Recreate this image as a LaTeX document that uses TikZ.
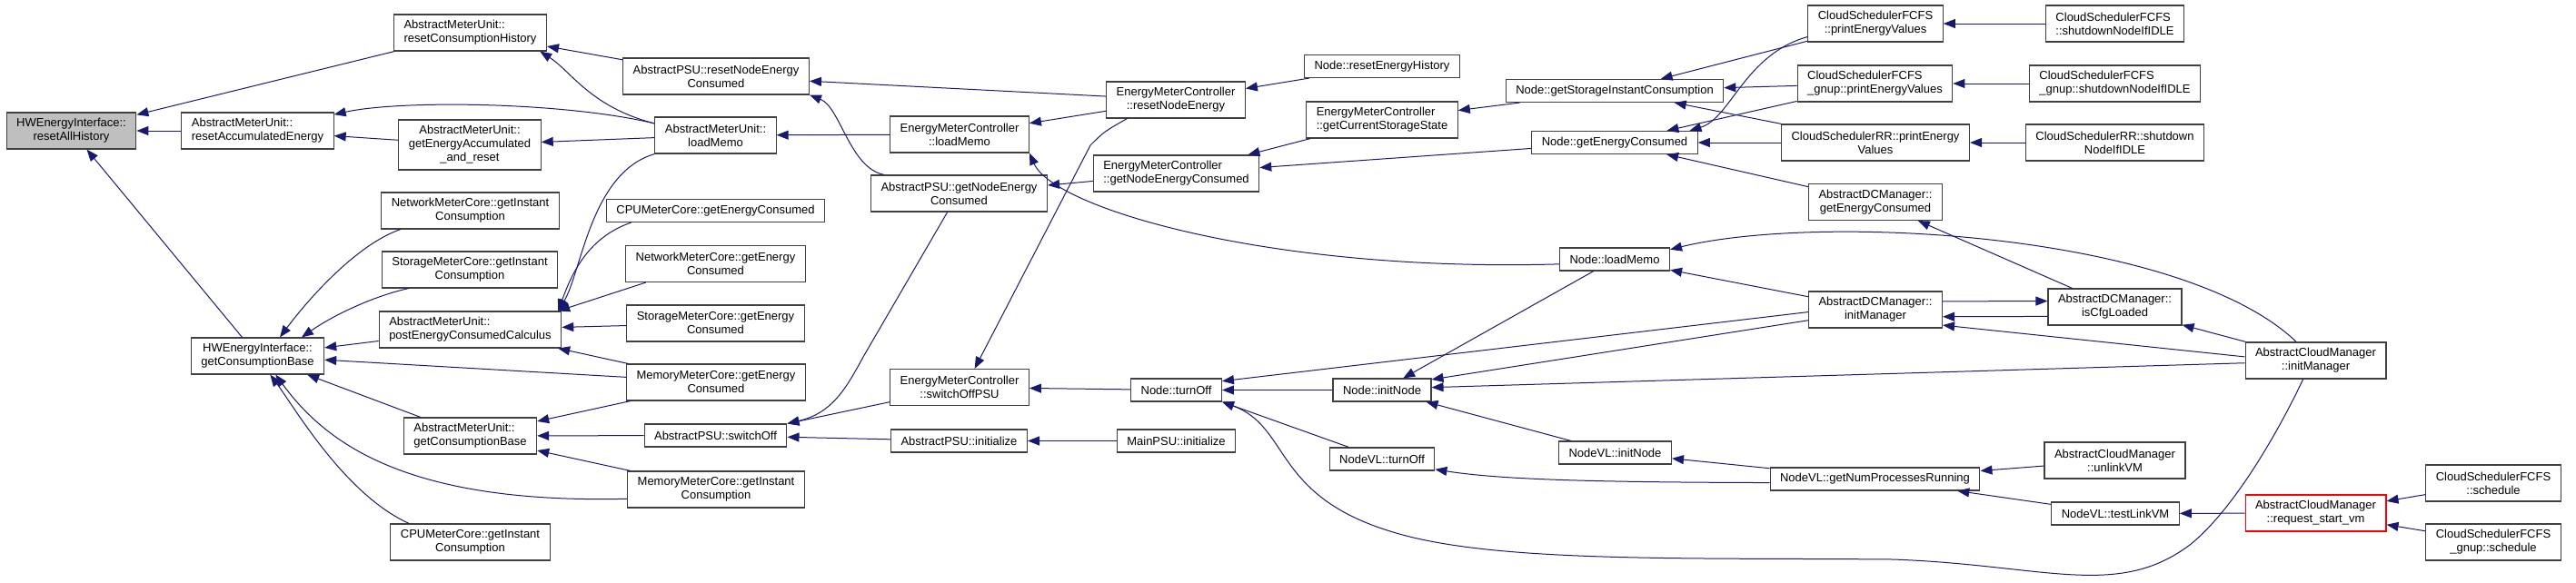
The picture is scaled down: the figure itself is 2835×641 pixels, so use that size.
\documentclass[tikz,border=0pt]{standalone}
\usepackage{fontspec}
\setmainfont{Liberation Sans}
\usetikzlibrary{arrows.meta}
\definecolor{edgeblue}{HTML}{191970}
\definecolor{boxgray}{HTML}{BFBFBF}
\definecolor{boxline}{HTML}{404040}

\begin{document}
\begin{tikzpicture}[x=1pt,y=-1pt,
  fn/.style={draw=boxline, line width=1.1pt, fill=white, align=center, inner xsep=11pt, inner ysep=0pt, minimum height=25pt, font=\fontsize{13}{15}\selectfont},
  fnl/.style={fn, align=left},
  tall/.style={minimum height=40pt},
  taller/.style={minimum height=55pt},
  call/.style={draw=edgeblue, line width=1pt, {Triangle[length=13pt,width=10pt]}-}]
\useasboundingbox (0,0) rectangle (2835,641);
% column 1
\node[fn, tall, fill=boxgray] (hwReset) at (78.5,144) {HWEnergyInterface::\\resetAllHistory};
\node[fnl, tall] (amuResetAcc) at (283.5,144) {AbstractMeterUnit::\\resetAccumulatedEnergy};
\node[fn, tall] (hwGetBase) at (283.5,392) {HWEnergyInterface::\\getConsumptionBase};
% column 2
\node[fnl, tall] (amuResetHist) at (517.5,36) {AbstractMeterUnit::\\resetConsumptionHistory};
\node[fn, taller] (amuGetAccReset) at (517,159.5) {AbstractMeterUnit::\\getEnergyAccumulated\\\_and\_reset};
\node[fn, tall] (netInst) at (517.5,232) {NetworkMeterCore::getInstant\\Consumption};
\node[fn, tall] (stoInst) at (517,297) {StorageMeterCore::getInstant\\Consumption};
\node[fnl, tall] (amuPost) at (517.5,363) {AbstractMeterUnit::\\postEnergyConsumedCalculus};
\node[fnl, tall] (amuGetBase) at (517.5,480) {AbstractMeterUnit::\\getConsumptionBase};
\node[fn, tall] (cpuInst) at (517.5,597) {CPUMeterCore::getInstant\\Consumption};
% column 3
\node[fn, tall] (psuResetCons) at (788,84) {AbstractPSU::resetNodeEnergy\\Consumed};
\node[fn, tall] (amuLoad) at (787.5,149) {AbstractMeterUnit::\\loadMemo};
\node[fn] (cpuEnergy) at (787.5,232) {CPUMeterCore::getEnergyConsumed};
\node[fn, tall] (netEnergy) at (787.5,290.5) {NetworkMeterCore::getEnergy\\Consumed};
\node[fn, tall] (stoEnergy) at (787.5,356) {StorageMeterCore::getEnergy\\Consumed};
\node[fn, tall] (memEnergy) at (788,421) {MemoryMeterCore::getEnergy\\Consumed};
\node[fn] (psuOff) at (787.5,479.5) {AbstractPSU::switchOff};
\node[fn, tall] (memInst) at (788,539) {MemoryMeterCore::getInstant\\Consumption};
% column 4
\node[fn, tall] (emcLoad) at (1056,148) {EnergyMeterController\\::loadMemo};
\node[fn, tall] (psuGetCons) at (1055.5,213) {AbstractPSU::getNodeEnergy\\Consumed};
\node[fn, tall] (emcOffPSU) at (1056,426.5) {EnergyMeterController\\::switchOffPSU};
\node[fn] (psuInit) at (1055.5,485.5) {AbstractPSU::initialize};
% column 5
\node[fn, tall] (emcReset) at (1294,110) {EnergyMeterController\\::resetNodeEnergy};
\node[fnl, tall] (emcGetCons) at (1294.5,191) {EnergyMeterController\\::getNodeEnergyConsumed};
\node[fn] (nodeOff) at (1294.5,429.5) {Node::turnOff};
\node[fn] (mainInit) at (1294.5,485.5) {MainPSU::initialize};
% column 6
\node[fn] (nodeResetHist) at (1521,73) {Node::resetEnergyHistory};
\node[fnl, tall] (emcStorage) at (1521,132) {EnergyMeterController\\::getCurrentStorageState};
\node[fn] (nodeInit) at (1521,429.5) {Node::initNode};
\node[fn] (vlOff) at (1521,505.5) {NodeVL::turnOff};
% column 7
\node[fn] (nodeStoInst) at (1777,100) {Node::getStorageInstantConsumption};
\node[fn] (nodeEnergy) at (1777,157) {Node::getEnergyConsumed};
\node[fn] (nodeLoad) at (1777,285.5) {Node::loadMemo};
\node[fn] (vlInit) at (1777.5,498.5) {NodeVL::initNode};
% column 8
\node[fn, tall] (fcfsPrint) at (2064,26) {CloudSchedulerFCFS\\::printEnergyValues};
\node[fnl, tall] (gnupPrint) at (2063.5,92) {CloudSchedulerFCFS\\\_gnup::printEnergyValues};
\node[fn, tall] (rrPrint) at (2064,157) {CloudSchedulerRR::printEnergy\\Values};
\node[fn, tall] (dcEnergy) at (2064,222.5) {AbstractDCManager::\\getEnergyConsumed};
\node[fn, tall] (dcInit) at (2064,341) {AbstractDCManager::\\initManager};
\node[fn] (vlProc) at (2063.5,527.5) {NodeVL::getNumProcessesRunning};
% column 9
\node[fnl, tall] (fcfsShut) at (2327.5,26) {CloudSchedulerFCFS\\::shutdownNodeIfIDLE};
\node[fnl, tall] (gnupShut) at (2327.5,92) {CloudSchedulerFCFS\\\_gnup::shutdownNodeIfIDLE};
\node[fn, tall] (rrShut) at (2327.5,157) {CloudSchedulerRR::shutdown\\NodeIfIDLE};
\node[fn, tall] (dcCfg) at (2327.5,338) {AbstractDCManager::\\isCfgLoaded};
\node[fn, tall] (acmUnlink) at (2327.5,507) {AbstractCloudManager\\::unlinkVM};
\node[fn] (vlTest) at (2328,565.5) {NodeVL::testLinkVM};
% column 10 and 11
\node[fn, tall] (acmInit) at (2548.5,397) {AbstractCloudManager\\::initManager};
\node[fn, tall, draw=red] (acmStart) at (2548.5,565) {AbstractCloudManager\\::request\_start\_vm};
\node[fn, tall] (fcfsSched) at (2744,532) {CloudSchedulerFCFS\\::schedule};
\node[fn, tall] (gnupSched) at (2744,597) {CloudSchedulerFCFS\\\_gnup::schedule};
% straight calls (arrow at the callee)
\foreach \a/\b in {hwReset/amuResetHist, hwReset/amuResetAcc, hwReset/hwGetBase,
    amuResetHist/psuResetCons, amuResetAcc/amuGetAccReset, amuGetAccReset/amuLoad,
    psuResetCons/emcReset, amuLoad/emcLoad, amuPost/stoEnergy, hwGetBase/amuPost,
    hwGetBase/memEnergy, hwGetBase/amuGetBase, amuGetBase/memEnergy, amuGetBase/psuOff,
    amuGetBase/memInst, psuOff/psuInit, emcLoad/emcReset, psuGetCons/emcGetCons,
    emcOffPSU/nodeOff, psuInit/mainInit, emcReset/nodeResetHist, emcGetCons/emcStorage,
    emcGetCons/nodeEnergy, emcStorage/nodeStoInst, nodeStoInst/fcfsPrint,
    nodeStoInst/gnupPrint, nodeStoInst/rrPrint, nodeEnergy/gnupPrint, nodeEnergy/rrPrint,
    nodeEnergy/dcEnergy, nodeLoad/dcInit, nodeInit/nodeLoad, nodeOff/nodeInit,
    nodeInit/vlInit, vlInit/vlProc, vlProc/acmUnlink, vlProc/vlTest, dcEnergy/dcCfg,
    dcCfg/acmInit, vlTest/acmStart, acmStart/fcfsSched, acmStart/gnupSched,
    fcfsPrint/fcfsShut, gnupPrint/gnupShut, rrPrint/rrShut}
  \draw[call] (\a) -- (\b);
% bent calls
\draw[call] (amuResetHist.-15) .. controls (628,78) and (650,118) .. (amuLoad.169);
\draw[call] (amuResetAcc.12) .. controls (440,110) and (620,112) .. (amuLoad.169);
\draw[call] (psuResetCons.south east) .. controls (925,118) and (935,185) .. (psuGetCons.166);
\draw[call] (amuPost.12) .. controls (640,300) and (650,190) .. (amuLoad.south west);
\draw[call] (amuPost.12) .. controls (628,305) and (645,262) .. (cpuEnergy.188);
\draw[call] (amuPost.12) -- (netEnergy.195);
\draw[call] (amuPost.-12) -- (memEnergy.168);
\draw[call] (hwGetBase.40) .. controls (335,335) and (390,270) .. (netInst.195);
\draw[call] (hwGetBase.23) .. controls (370,345) and (415,325) .. (stoInst.197);
\draw[call] (hwGetBase.-46) .. controls (360,490) and (450,555) .. (memInst.186);
\draw[call] (hwGetBase.-56) .. controls (325,450) and (380,545) .. (cpuInst.163);
\draw[call] (psuOff.north east) .. controls (915,455) and (930,430) .. (950,393) -- (psuGetCons.-122);
\draw[call] (psuOff.north east) -- (emcOffPSU);
\draw[call] (emcLoad.south east) .. controls (1160,230) and (1400,300) .. (nodeLoad.185);
\draw[call] (emcOffPSU.51) -- (1200,160) .. controls (1215,145) .. (emcReset.201);
\draw[call] (nodeEnergy.9) .. controls (1905,130) and (1920,60) .. (fcfsPrint.191);
\draw[call] (nodeLoad.10) .. controls (2000,235) and (2400,255) .. (acmInit.136);
\draw[call] (nodeOff.11) -- (dcInit.182);
\draw[call] (nodeOff.south east) -- (vlOff);
\draw[call] (nodeOff.south east) .. controls (1420,470) and (1400,545) .. (1530,585)
  .. controls (1640,620) and (1850,614) .. (2083,616)
  .. controls (2250,622) and (2330,660) .. (2410,600)
  .. controls (2460,560) and (2510,470) .. (acmInit.-124);
\draw[call] (nodeInit.12) -- (dcInit.189);
\draw[call] (nodeInit.3) -- (acmInit.182);
\draw[call] (vlOff.-11) .. controls (1650,528) and (1750,531) .. (vlProc.182);
\draw[call] (dcCfg.175) -- (dcInit.7);
\draw[call] (dcInit.-6) -- (dcCfg.188);
\draw[call] (dcInit.-13) -- (acmInit.177);
\end{tikzpicture}
\end{document}
